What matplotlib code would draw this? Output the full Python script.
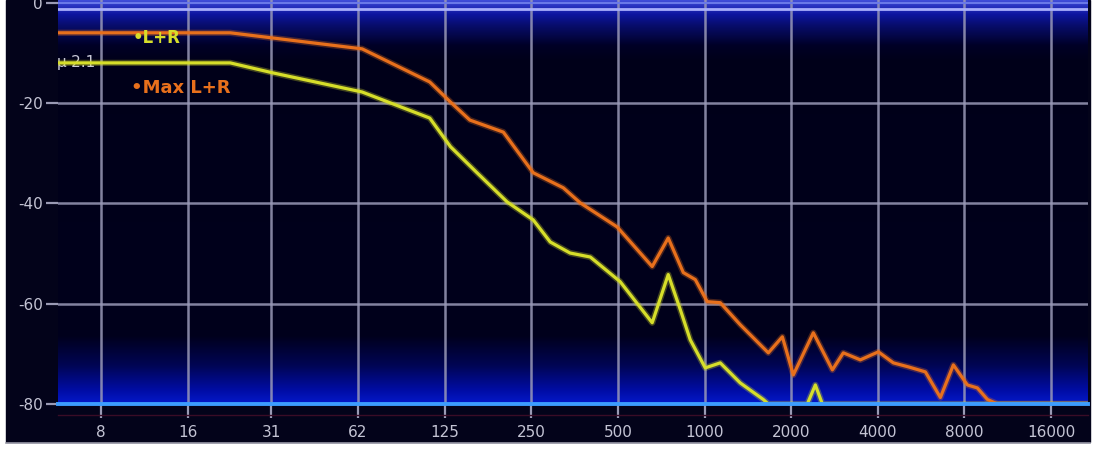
import numpy as np
import matplotlib
matplotlib.use("Agg")
import matplotlib.pyplot as plt
from matplotlib.patches import Rectangle
from matplotlib.lines import Line2D

# --- data (Hz, dB) ---
max_freq = [5.67, 22.5, 64.6, 111, 131, 153, 200, 254, 323, 370, 497, 658, 748,
            844, 929, 1022, 1134, 1331, 1666, 1864, 2035, 2388, 2781, 3036, 3479,
            4018, 4530, 5109, 5854, 6600, 7322, 8192, 8873, 9617, 10414, 21500]
max_db = [-6.0, -6.0, -9.2, -15.8, -19.8, -23.4, -25.8, -33.9, -36.9, -39.9, -44.7,
          -52.6, -46.9, -53.8, -55.2, -59.6, -59.8, -64.2, -69.8, -66.6, -74.2,
          -65.8, -73.2, -69.8, -71.2, -69.6, -71.8, -72.6, -73.6, -78.7, -72.2,
          -76.2, -76.8, -79.1, -80.0, -80.0]

lr_freq = [5.67, 22.5, 31.7, 64.6, 111, 131, 162, 206, 254, 291, 341, 401, 509,
           658, 748, 824, 892, 1006, 1134, 1331, 1600, 1666, 2276, 2427, 2567, 21500]
lr_db = [-12.0, -12.0, -14.0, -17.8, -23.0, -28.7, -33.9, -39.7, -43.3, -47.7,
         -49.9, -50.7, -55.6, -63.8, -54.2, -61.2, -67.2, -72.8, -71.8, -75.8,
         -79.1, -80.0, -80.0, -76.2, -80.0, -80.0]

tick_freqs = [8, 16, 31.25, 62.5, 125, 250, 500, 1000, 2000, 4000, 8000, 16000]
tick_names = ["8", "16", "31", "62", "125", "250", "500", "1000", "2000",
              "4000", "8000", "16000"]
db_ticks = [0, -20, -40, -60, -80]
db_names = ["0", "-20", "-40", "-60", "-80"]

W, H = 1097, 450
fig = plt.figure(figsize=(W / 100, H / 100), dpi=100, facecolor="white")

# dark instrument frame
fig.add_artist(Rectangle((6 / W, 1 - 442 / H), 1084 / W, 442 / H,
                         transform=fig.transFigure, color="#03031a", zorder=0))
fig.add_artist(Line2D([6 / W, 1090 / W], [1 - 443 / H] * 2, transform=fig.transFigure,
                      color="#9a9aa8", lw=1.2))
fig.add_artist(Line2D([58 / W, 1088 / W], [1 - 415 / H] * 2, transform=fig.transFigure,
                      color="#3a0c26", lw=1))

ax = fig.add_axes([58 / W, 1 - 404 / H, 1030 / W, 404 / H])
ax.set_xscale("log", base=2)
ax.set_xlim(5.67, 21500)
ax.set_ylim(-80, 0.54)

# background gradient (row 0 = top)
rows = np.arange(404)
ky = [0, 4, 14, 25, 45, 60, 335, 365, 390, 404]
kr = [0.25, 0.18, 0.05, 0.03, 0.0, 0.0, 0.0, 0.0, 0.0, 0.02]
kg = [0.30, 0.22, 0.08, 0.05, 0.0, 0.0, 0.0, 0.02, 0.05, 0.10]
kb = [0.85, 0.78, 0.62, 0.42, 0.15, 0.10, 0.11, 0.33, 0.65, 0.80]
grad = np.stack([np.interp(rows, ky, kr), np.interp(rows, ky, kg),
                 np.interp(rows, ky, kb)], axis=1)[:, None, :]
ax.imshow(grad, extent=[0, 1, 0, 1], transform=ax.transAxes, aspect="auto",
          zorder=0, interpolation="bilinear")

for s in ax.spines.values():
    s.set_visible(False)

ax.set_xticks(tick_freqs)
ax.set_xticklabels(tick_names)
ax.xaxis.set_minor_locator(matplotlib.ticker.NullLocator())
ax.set_yticks(db_ticks)
ax.set_yticklabels(db_names)
ax.tick_params(axis="both", colors="#9a9ab4", width=1.6, labelcolor="#c4c4d4",
               labelsize=11)
ax.tick_params(axis="x", length=10, pad=5)
ax.tick_params(axis="y", length=9, pad=2)

for f in tick_freqs:
    ax.axvline(f, color="#9a9ab8", lw=1.8, alpha=0.85, zorder=1)
for d in db_ticks[1:-1]:
    ax.axhline(d, color="#9a9ab8", lw=1.8, alpha=0.85, zorder=1)

ax.axhline(0, color="#6a78e8", lw=1.5, zorder=1)
ax.axhline(-1.25, color="#a8aefc", lw=2, zorder=1)

# curves with a soft glow
ax.plot(max_freq, max_db, color="#e8701c", lw=4.5, alpha=0.3, zorder=2)
ax.plot(max_freq, max_db, color="#e8701c", lw=2.3, zorder=2.5)
ax.plot(lr_freq, lr_db, color="#d6de2a", lw=4.5, alpha=0.3, zorder=2)
ax.plot(lr_freq, lr_db, color="#d6de2a", lw=2.3, zorder=2.5)

ax.axhline(-80, color="#3c9cff", lw=2.8, zorder=3, clip_on=False)

fig.text(133 / W, 1 - 38 / H, "\u2022L+R", color="#d6de2a", fontsize=12,
         fontweight="bold", va="center", ha="left")
fig.text(131 / W, 1 - 88 / H, "\u2022Max L+R", color="#e8701c", fontsize=13,
         fontweight="bold", va="center", ha="left")
ax.text(57 / W, 1 - 63 / H, "\u03bc-2.1", color="#c8c8d8", fontsize=11,
        va="center", ha="left", transform=fig.transFigure, zorder=1.5)

fig.savefig("out.png", dpi=100, facecolor="white")
